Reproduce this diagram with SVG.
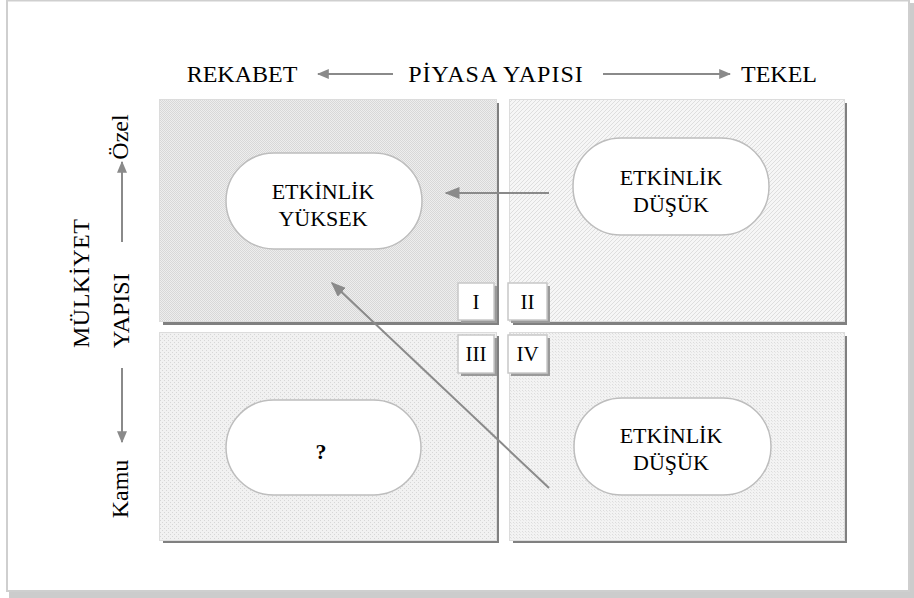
<svg xmlns="http://www.w3.org/2000/svg" width="914" height="598" viewBox="0 0 914 598">
<style>
  .lbl { font-family: "Liberation Serif", "Times New Roman", serif; font-size: 24px; fill: #000; }
  .pill { fill: #ffffff; stroke: #bdbdbd; stroke-width: 1.5; }
  .ptxt { font-family: "Liberation Serif", "Times New Roman", serif; font-size: 22px; fill: #000; text-anchor: middle; }
  .rn { font-family: "Liberation Serif", "Times New Roman", serif; font-size: 21px; fill: #000; text-anchor: middle; }
  .edge { stroke: #8a8a8a; stroke-width: 2; fill: none; }
  .panelLine { fill: none; stroke: #dcdcdc; stroke-width: 1; }
  .shadow { fill: #808080; }
  .box { fill: #ffffff; stroke: #c8c8c8; stroke-width: 1.5; }
  .boxsh { fill: #9a9a9a; }
</style>
<defs>
  <pattern id="pTL" width="2" height="2" patternUnits="userSpaceOnUse">
    <rect width="2" height="2" fill="#eeeeee"/>
    <rect width="1" height="1" fill="#d8d8d8"/>
    <rect x="1" y="1" width="1" height="1" fill="#d8d8d8"/>
  </pattern>
  <pattern id="pTR" width="4" height="4" patternUnits="userSpaceOnUse">
    <rect width="4" height="4" fill="#f6f6f6"/>
    <path d="M0,4 L4,0 M-1,1 L1,-1 M3,5 L5,3" stroke="#dedede" stroke-width="1"/>
  </pattern>
  <pattern id="pBL" width="4" height="4" patternUnits="userSpaceOnUse">
    <rect width="4" height="4" fill="#f1f1f1"/>
    <rect width="1" height="1" fill="#d6d6d6"/>
    <rect x="2" y="2" width="1" height="1" fill="#d6d6d6"/>
  </pattern>
  <pattern id="pBR" width="3" height="3" patternUnits="userSpaceOnUse">
    <rect width="3" height="3" fill="#f3f3f3"/>
    <rect width="1" height="1" fill="#dcdcdc"/>
    <rect x="1" y="1" width="1" height="1" fill="#e6e6e6"/>
  </pattern>
  <marker id="ah" viewBox="0 0 10 10" refX="9" refY="5" markerWidth="12" markerHeight="10" orient="auto" markerUnits="userSpaceOnUse" preserveAspectRatio="none">
    <path d="M0,0 L10,5 L0,10 Z" fill="#8a8a8a"/>
  </marker>
  <marker id="ahs" viewBox="0 0 10 10" refX="9" refY="5" markerWidth="15" markerHeight="12" orient="auto" markerUnits="userSpaceOnUse" preserveAspectRatio="none">
    <path d="M0,0 L10,5 L0,10 Z" fill="#8a8a8a"/>
  </marker>
</defs>

<!-- outer frame -->
<g id="frame">
  <rect x="0" y="0" width="914" height="598" fill="#ffffff"/>
  <rect x="909" y="3" width="5" height="595" fill="#cccccc"/>
  <rect x="9" y="591" width="905" height="7" fill="#cccccc"/>
  <rect x="7" y="0.5" width="902" height="590.5" fill="none" stroke="#cfcfcf" stroke-width="2"/>
</g>

<!-- axis labels -->
<g id="axis-top">
  <text class="lbl" x="242" y="82" text-anchor="middle">REKABET</text>
  <text class="lbl" x="496" y="82" text-anchor="middle" letter-spacing="1">PİYASA YAPISI</text>
  <text class="lbl" x="779" y="82" text-anchor="middle">TEKEL</text>
</g>
<g id="axis-left">
  <text class="lbl" transform="translate(128,137) rotate(-90)" text-anchor="middle">Özel</text>
  <text class="lbl" transform="translate(128,489) rotate(-90)" text-anchor="middle">Kamu</text>
  <text class="lbl" transform="translate(129,348) rotate(-90)" text-anchor="start">YAPISI</text>
  <text class="lbl" transform="translate(89,348) rotate(-90)" text-anchor="start" letter-spacing="0.5">MÜLKİYET</text>
</g>

<!-- quadrant panels -->
<g id="panel-I">
  <rect x="163" y="103" width="336" height="222" class="shadow"/>
  <rect x="159" y="99" width="338" height="223" fill="url(#pTL)"/>
  <rect x="159.5" y="99.5" width="337" height="222" class="panelLine"/>
</g>
<g id="panel-II">
  <rect x="513" y="103" width="334" height="222" class="shadow"/>
  <rect x="509" y="99" width="336" height="223" fill="url(#pTR)"/>
  <rect x="509.5" y="99.5" width="335" height="222" class="panelLine"/>
</g>
<g id="panel-III">
  <rect x="163" y="336" width="336" height="207" class="shadow"/>
  <rect x="159" y="332" width="338" height="209" fill="url(#pBL)"/>
  <rect x="159.5" y="332.5" width="337" height="208" class="panelLine"/>
</g>
<g id="panel-IV">
  <rect x="513" y="336" width="334" height="207" class="shadow"/>
  <rect x="509" y="332" width="336" height="209" fill="url(#pBR)"/>
  <rect x="509.5" y="332.5" width="335" height="208" class="panelLine"/>
</g>

<!-- pills -->
<g id="node-yuksek">
  <rect x="226" y="153" width="196" height="96" rx="48" class="pill"/>
  <text class="ptxt" x="323" y="199">ETKİNLİK</text>
  <text class="ptxt" x="323" y="226">YÜKSEK</text>
</g>
<g id="node-dusuk-top">
  <rect x="573" y="138" width="196" height="97" rx="48" class="pill"/>
  <text class="ptxt" x="671" y="185">ETKİNLİK</text>
  <text class="ptxt" x="671" y="212">DÜŞÜK</text>
</g>
<g id="node-question">
  <rect x="226" y="400" width="195" height="95" rx="47.5" class="pill"/>
  <text class="ptxt" x="321" y="459" font-weight="bold">?</text>
</g>
<g id="node-dusuk-bottom">
  <rect x="574" y="398" width="197" height="97" rx="48" class="pill"/>
  <text class="ptxt" x="671" y="443">ETKİNLİK</text>
  <text class="ptxt" x="671" y="470">DÜŞÜK</text>
</g>

<!-- quadrant numbers -->
<g id="num-I">
  <rect x="461" y="286" width="36" height="37" class="boxsh"/>
  <rect x="458" y="283" width="36" height="37" class="box"/>
  <text class="rn" x="476" y="309">I</text>
</g>
<g id="num-II">
  <rect x="511" y="286" width="39" height="37" class="boxsh"/>
  <rect x="508" y="283" width="39" height="37" class="box"/>
  <text class="rn" x="527.5" y="309">II</text>
</g>
<g id="num-III">
  <rect x="461" y="338" width="36" height="38" class="boxsh"/>
  <rect x="458" y="335" width="36" height="38" class="box"/>
  <text class="rn" x="476" y="361">III</text>
</g>
<g id="num-IV">
  <rect x="511" y="338" width="39" height="38" class="boxsh"/>
  <rect x="508" y="335" width="39" height="38" class="box"/>
  <text class="rn" x="527.5" y="361">IV</text>
</g>

<!-- connectors -->
<g id="connectors">
  <line x1="393" y1="74" x2="318" y2="74" class="edge" marker-end="url(#ah)"/>
  <line x1="603" y1="74" x2="730" y2="74" class="edge" marker-end="url(#ah)"/>
  <line x1="122" y1="242" x2="122" y2="162" class="edge" marker-end="url(#ah)"/>
  <line x1="122" y1="368" x2="122" y2="442" class="edge" marker-end="url(#ah)"/>
  <line x1="549" y1="193" x2="446" y2="193" class="edge" marker-end="url(#ahs)"/>
  <line x1="549" y1="488" x2="332" y2="283" class="edge" marker-end="url(#ahs)"/>
</g>
</svg>
